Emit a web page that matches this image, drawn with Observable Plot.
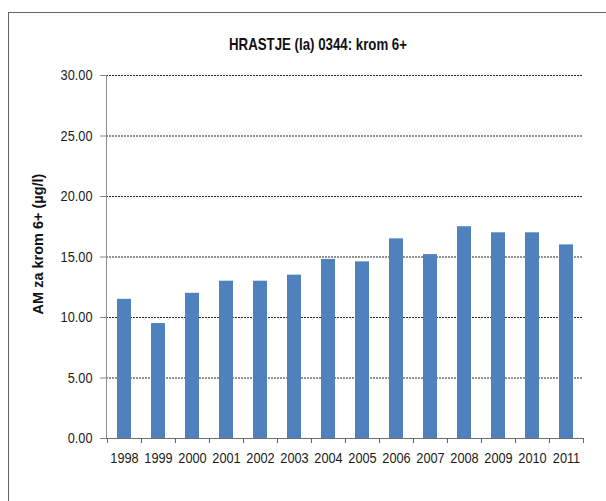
<!DOCTYPE html>
<html>
<head>
<meta charset="utf-8">
<script src="https://cdn.jsdelivr.net/npm/d3@7"></script>
<script src="https://cdn.jsdelivr.net/npm/@observablehq/plot@0.6"></script>
<style>
  html, body { margin: 0; padding: 0; background: #fff; width: 606px; height: 501px; overflow: hidden; }
  #border { position: absolute; left: 8px; top: 12px; width: 640px; height: 540px; border: 1.5px solid #666; box-sizing: border-box; }
  #title { position: absolute; left: 0; top: 35px; width: 636px; text-align: center; line-height: 20px;
           font-family: "Liberation Sans", Arial, sans-serif;
           font-weight: bold; font-size: 17px; color: #111; transform: scaleX(0.78); transform-origin: 318px 0; }
  #chart { position: absolute; left: 0; top: 0; }
</style>
</head>
<body>
<div id="border"></div>
<div id="chart"></div>
<div id="title"></div>
<script>
const years = ["1998","1999","2000","2001","2002","2003","2004","2005","2006","2007","2008","2009","2010","2011"];
const values = [11.5, 9.5, 12.0, 13.0, 13.0, 13.5, 14.8, 14.6, 16.5, 15.2, 17.5, 17.0, 17.0, 16.0];
const yTicks = [0, 5, 10, 15, 20, 25, 30];
const gridLines = [5, 10, 15, 20, 25, 30];
const title = "HRASTJE (Ia) 0344: krom 6+";
const yLabel = "AM za krom 6+ (µg/l)";

const data = years.map((year, i) => ({year, value: values[i]}));

const W = 606, H = 501, mL = 106, mR = 23, mT = 75, mB = 63;
const half = (W - mL - mR) / years.length / 2;
const font = "'Liberation Sans', Arial, sans-serif";

document.getElementById("title").textContent = title;

const chart = Plot.plot({
  width: W, height: H,
  marginLeft: mL, marginRight: mR, marginTop: mT, marginBottom: mB,
  style: {background: "transparent", fontFamily: font, fontSize: "15px", color: "#1a1a1a", overflow: "visible"},
  x: {type: "band", domain: years, paddingInner: 0.59, paddingOuter: 0.295, align: 0.5},
  y: {domain: [0, 30]},
  marks: [
    Plot.ruleY(gridLines, {stroke: "#000", strokeDasharray: "2,1", strokeWidth: 1, strokeOpacity: 0.85}),
    Plot.barY(data, {x: "year", y: "value", fill: "#4F81BD"}),
    Plot.frame({anchor: "left", stroke: "#8c8c8c"}),
    Plot.ruleY([0], {stroke: "#6e6e6e"}),
    Plot.axisY({ticks: yTicks, tickFormat: d3.format(".2f"), tickSize: 6, tickPadding: 8, label: null, stroke: "#888"}),
    Plot.axisX({tickSize: 5, dx: -half, tickFormat: () => "", label: null, stroke: "#666"}),
    Plot.axisX({tickSize: 5, dx: half, tickFormat: () => "", label: null, stroke: "#666"}),
    Plot.axisX({tickSize: 0, tickPadding: 14, label: null}),
    Plot.text([yLabel], {frameAnchor: "left", textAnchor: "middle", rotate: -90, dx: -68, dy: -13, fontWeight: "bold", fontSize: 14.5,
                         fontFamily: font, fill: "#111"})
  ]
});
document.getElementById("chart").appendChild(chart);

// the reference uses a condensed face: compress tick labels horizontally
chart.querySelectorAll('g[aria-label="y-axis tick label"] text, g[aria-label="x-axis tick label"] text').forEach(t => {
  const len = t.getComputedTextLength();
  if (len > 0) {
    t.setAttribute("textLength", (len * 0.85).toFixed(2));
    t.setAttribute("lengthAdjust", "spacingAndGlyphs");
  }
});
</script>
</body>
</html>
